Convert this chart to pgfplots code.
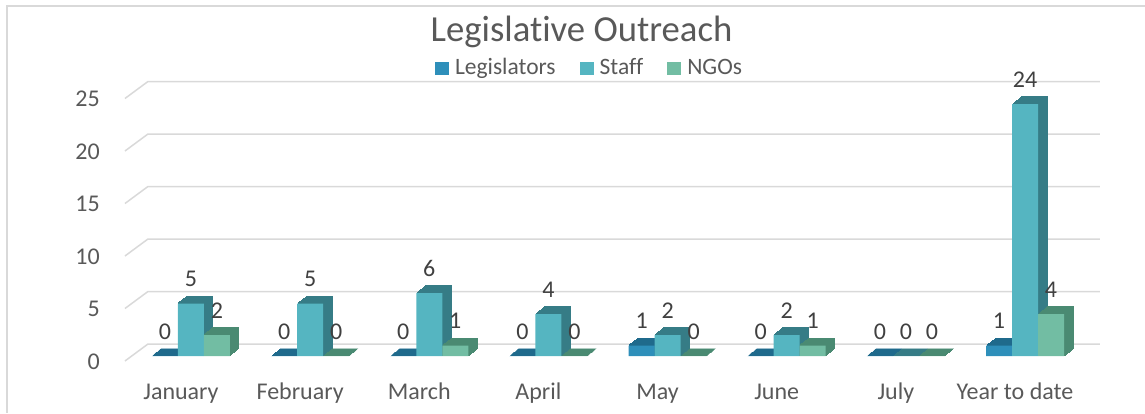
\documentclass[border=0pt]{standalone}
\usepackage{fontspec}
\setmainfont{Carlito}[Ligatures={NoCommon}]
\usepackage{pgfplots}
\pgfplotsset{compat=1.18}
\usepackage{pgfplotstable}
\definecolor{legF}{HTML}{2E8FBA}
\definecolor{legS}{HTML}{1F6A8C}
\definecolor{staF}{HTML}{55B5C1}
\definecolor{staS}{HTML}{367C86}
\definecolor{ngoF}{HTML}{72BDA3}
\definecolor{ngoS}{HTML}{4A8A72}
\definecolor{gridc}{HTML}{D9D9D9}
\definecolor{txt}{HTML}{595959}
\definecolor{lbl}{HTML}{404040}
\pgfplotstableread{
x leg sta ngo
0 0 5 2
1 0 5 0
2 0 6 1
3 0 4 0
4 1 2 0
5 0 2 1
6 0 0 0
7 1 24 4
}\data
\newcommand{\fnt}{\fontsize{24pt}{28pt}\selectfont}
\begin{document}
\begin{tikzpicture}
\useasboundingbox (0,0) rectangle (1145pt,413pt);
\draw[gridc, line width=2pt] (1145pt,407pt) -- (7pt,407pt) -- (7pt,0pt);
\begin{axis}[
  at={(131.4pt,57pt)}, anchor=south west, scale only axis,
  width=953.2pt, height=262.5pt,
  xmin=-0.5, xmax=7.5, ymin=0, ymax=25, clip=false,
  ybar,
  axis line style={draw=none}, tick style={draw=none}, major tick length=0pt,
  xtick={0,...,7},
  xticklabels={January,February,March,April,May,June,July,Year to date},
  ytick={0,5,...,25},
  /pgf/number format/assume math mode=true,
  xticklabel style={anchor=base, inner sep=0pt, yshift=-43pt, xshift=-10pt, font=\fnt, text=txt},
  yticklabel style={anchor=east, inner sep=0pt, xshift=-31.4pt, yshift=-5.5pt, font=\fnt, text=txt},
  title={Legislative Outreach},
  title style={at={(axis description cs:0.4722,1.177)}, anchor=base, inner sep=0pt, font=\fontsize{36.7pt}{40pt}\selectfont, text=txt},
  legend columns=-1,
  legend style={at={(axis description cs:0.4806,1.101)}, anchor=center, draw=none, fill=none,
    font=\fontsize{23.5pt}{26pt}\selectfont, text=txt, cells={anchor=base west},
    /tikz/every even column/.append style={column sep=22pt}},
  legend image code/.code={\fill[#1] (0pt,-0.5pt) rectangle (14pt,12.5pt); \path (18pt,0pt);},
  every node near coord/.append style={font=\fnt, text=lbl},
]
% back-wall gridlines
\addplot[sharp plot, gridc, line width=1.5pt, forget plot] coordinates {(-0.554,-0.476) (-0.361,1.143) (7.629,1.143)};
\addplot[sharp plot, gridc, line width=1.5pt, forget plot] coordinates {(-0.554,4.524) (-0.361,6.143) (7.629,6.143)};
\addplot[sharp plot, gridc, line width=1.5pt, forget plot] coordinates {(-0.554,9.524) (-0.361,11.143) (7.629,11.143)};
\addplot[sharp plot, gridc, line width=1.5pt, forget plot] coordinates {(-0.554,14.524) (-0.361,16.143) (7.629,16.143)};
\addplot[sharp plot, gridc, line width=1.5pt, forget plot] coordinates {(-0.554,19.524) (-0.361,21.143) (7.629,21.143)};
\addplot[sharp plot, gridc, line width=1.5pt, forget plot] coordinates {(-0.554,24.524) (-0.361,26.143) (7.629,26.143)};
% Legislators
\pgfplotsinvokeforeach{9,8,...,1}{
\addplot[ybar, bar width=26pt, bar shift=-26pt, fill=legS, draw=legS, line width=1pt, xshift=#1pt, yshift=#1*0.78pt, forget plot] table[x=x,y=leg]{\data};
}
\addplot[ybar, bar width=26pt, bar shift=-26pt, fill=legF, draw=none,
  nodes near coords, nodes near coords style={anchor=center, yshift=24.5pt}] table[x=x,y=leg]{\data};
\addlegendentry{Legislators}
% Staff
\pgfplotsinvokeforeach{9,8,...,1}{
\addplot[ybar, bar width=26pt, bar shift=0pt, fill=staS, draw=staS, line width=1pt, xshift=#1pt, yshift=#1*0.78pt, forget plot] table[x=x,y=sta]{\data};
}
\addplot[ybar, bar width=26pt, bar shift=0pt, fill=staF, draw=none,
  nodes near coords, nodes near coords style={anchor=center, yshift=24.5pt}] table[x=x,y=sta]{\data};
\addlegendentry{Staff}
% NGOs
\pgfplotsinvokeforeach{9,8,...,1}{
\addplot[ybar, bar width=26pt, bar shift=26pt, fill=ngoS, draw=ngoS, line width=1pt, xshift=#1pt, yshift=#1*0.78pt, forget plot] table[x=x,y=ngo]{\data};
}
\addplot[ybar, bar width=26pt, bar shift=26pt, fill=ngoF, draw=none,
  nodes near coords, nodes near coords style={anchor=center, yshift=24.5pt}] table[x=x,y=ngo]{\data};
\addlegendentry{NGOs}
\end{axis}
\end{tikzpicture}
\end{document}
